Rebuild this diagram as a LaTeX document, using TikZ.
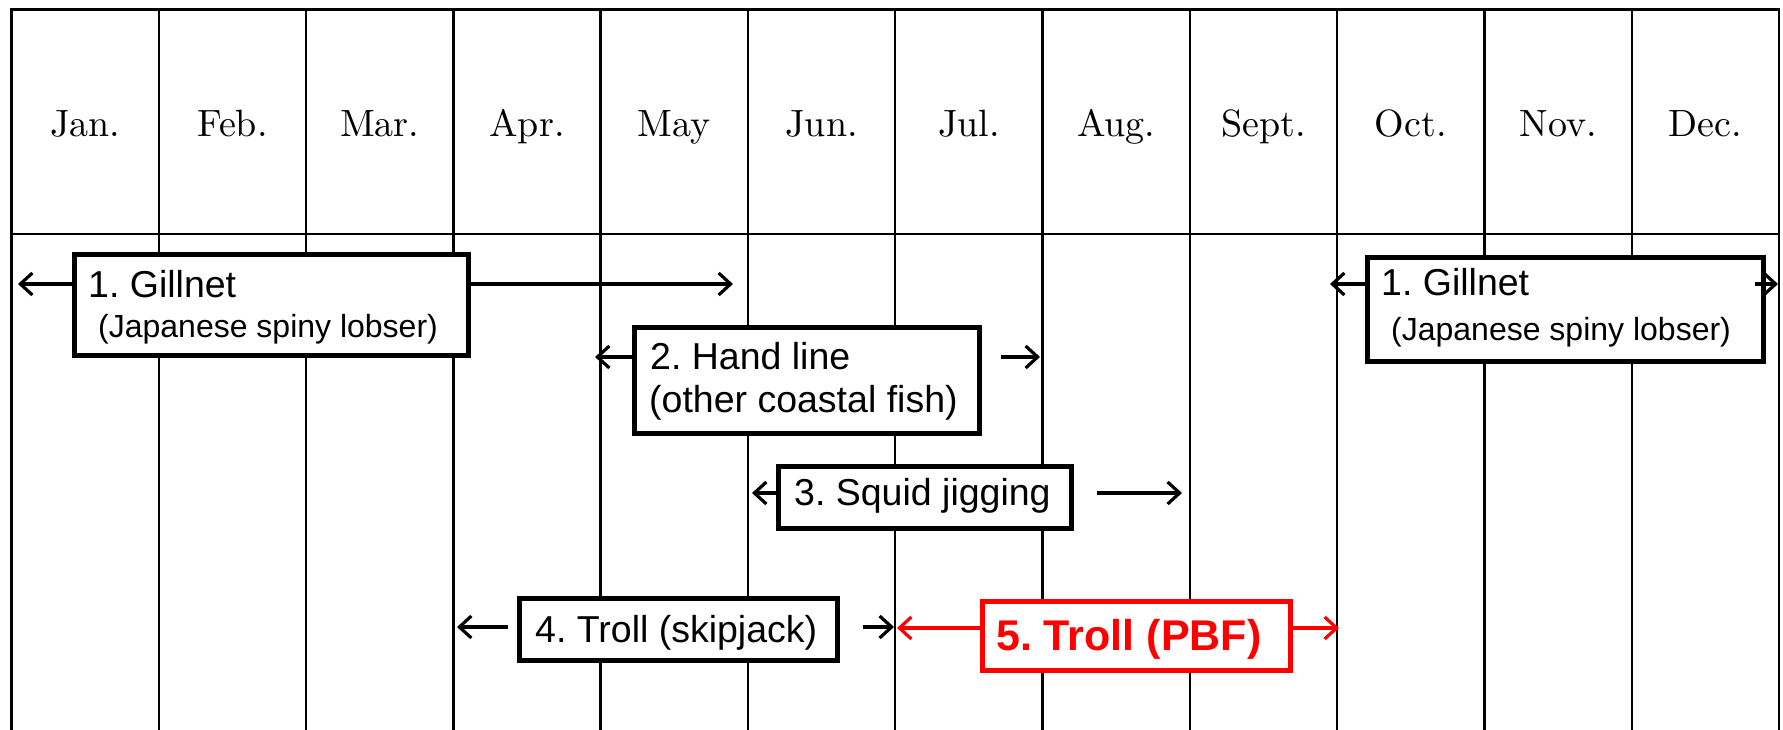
\documentclass[tikz,border=0pt]{standalone}
\usepackage{fontspec}
\newfontfamily\arial{Liberation Sans}
\newfontfamily\monfont{lmroman10-regular.otf}
\usetikzlibrary{arrows.meta,calc}
\begin{document}
\frenchspacing
\begin{tikzpicture}[x=1pt,y=-1pt,
  grid/.style={line width=2.4pt, line cap=rect},
  box/.style={draw, line width=4.5pt, fill=white, anchor=north west, inner sep=0pt},
  redbox/.style={box, draw=red},
  mon/.style={anchor=base, font=\monfont\fontsize{38}{40}\selectfont},
  ttl/.style={anchor=base west, inner sep=0pt, font=\arial\fontsize{37.5}{40}\selectfont},
  subt/.style={anchor=base west, inner sep=0pt, font=\arial\fontsize{32}{34}\selectfont},
  redt/.style={anchor=base west, inner sep=0pt, text=red, font=\arial\bfseries\fontsize{43}{45}\selectfont},
  arr/.style={line width=3.2pt, -{Straight Barb[length=12pt,width=22pt]}},
  redarr/.style={arr, draw=red}
]
\useasboundingbox (0,0) rectangle (1783,730);
\fill[white] (0,0) rectangle (1783,730);
% grid
\draw[grid] (11.5,730) -- (11.5,9.5) -- (1779,9.5) -- (1779,730);
\foreach \k in {1,...,11} \draw[grid] ({11.5+147.29*\k},9.5) -- ({11.5+147.29*\k},730);
\draw[grid] (11.5,234) -- (1779,234);
% months
\foreach \m [count=\i from 0] in {Jan.,Feb.,Mar.,Apr.,May,Jun.,Jul.,Aug.,Sept.,Oct.,Nov.,Dec.}
  \node[mon] (m\i) at ({11.5+147.29*(\i+0.5)},137) {\m};
% boxes
\node[box, minimum width=394pt, minimum height=101pt] (g1) at (72,252) {};
\node[box, minimum width=345pt, minimum height=106pt] (h) at (632,325) {};
\node[box, minimum width=293pt, minimum height=62pt] (sq) at (776,464) {};
\node[box, minimum width=318pt, minimum height=62pt] (ts) at (517,596) {};
\node[redbox, minimum width=308pt, minimum height=69pt] (pbf) at (980,599) {};
\node[box, minimum width=396pt, minimum height=104pt] (g2) at (1365,255) {};
% texts
\node[ttl] (g1t) at (88,297) {1. Gillnet};
\node[subt] (g1s) at (98,337) {(Japanese spiny lobser)};
\node[ttl] (ht) at (650,369) {2. Hand line};
\node[ttl] (hs) at (649,412) {(other coastal fish)};
\node[ttl] (sqt) at (794,505) {3. Squid jigging};
\node[ttl] (tst) at (535,642) {4. Troll (skipjack)};
\node[redt] (pbft) at (996,650) {5. Troll (PBF)};
\node[ttl] (g2t) at (1381,295) {1. Gillnet};
\node[subt] (g2s) at (1391,340) {(Japanese spiny lobser)};
% arrow ends
\coordinate (g1L) at (18,284);
\coordinate (g1R) at (733,284);
\coordinate (hL) at (595,357);
\coordinate (hR) at (1040,357);
\coordinate (sqL) at (752,493);
\coordinate (sqR) at (1182,493);
\coordinate (tsL) at (457,627);
\coordinate (tsR) at (894,627);
\coordinate (pbfL) at (897,628);
\coordinate (pbfR) at (1339,628);
\coordinate (g2L) at (1330,284);
\coordinate (g2R) at (1778,284);
% arrows
\draw[arr] (g1.west |- g1L) -- (g1L);
\draw[arr] (g1.east |- g1R) -- (g1R);
\draw[arr] (h.west |- hL) -- (hL);
\draw[arr] ([xshift=19pt]h.east |- hR) -- (hR);
\draw[arr] (sq.west |- sqL) -- (sqL);
\draw[arr] ([xshift=23pt]sq.east |- sqR) -- (sqR);
\draw[arr] ([xshift=-9pt]ts.west |- tsL) -- (tsL);
\draw[arr] ([xshift=23pt]ts.east |- tsR) -- (tsR);
\draw[redarr] (pbf.west |- pbfL) -- (pbfL);
\draw[redarr] (pbf.east |- pbfR) -- (pbfR);
\draw[arr] (g2.west |- g2L) -- (g2L);
\draw[arr] ([xshift=-11pt]g2.east |- g2R) -- (g2R);
\end{tikzpicture}
\end{document}
